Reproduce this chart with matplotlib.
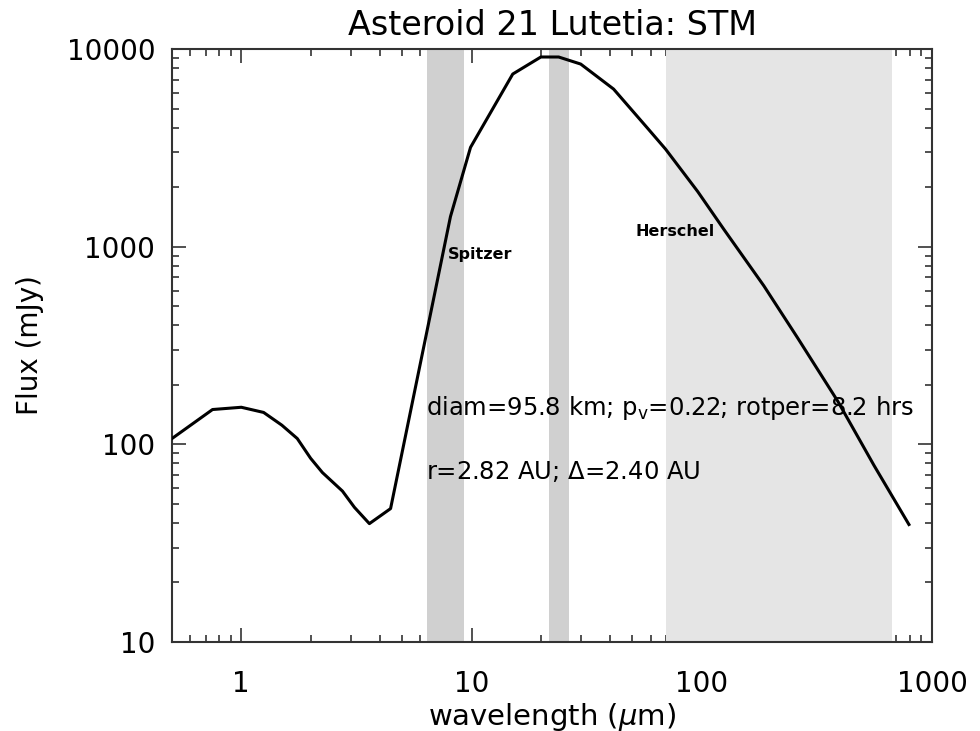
import matplotlib
matplotlib.use("Agg")
import matplotlib.pyplot as plt
from matplotlib.ticker import LogLocator, NullFormatter, FixedLocator, FixedFormatter

# ---- data ----
wavelength = [0.5, 0.75, 1.0, 1.25, 1.5, 1.75, 2.0, 2.25, 2.75, 3.1, 3.6, 4.45,
              8.1, 9.9, 15.1, 20, 23.9, 29.8, 41.4, 58.2, 69.7, 96, 125, 186,
              261, 390, 560, 794]
flux = [107, 150, 154, 145, 125, 107, 85, 72, 58, 48, 39.7, 47.3,
        1420, 3180, 7470, 9110, 9110, 8390, 6270, 3970, 3110, 1901, 1219, 634,
        345, 165, 78.2, 39.3]

spans = [(6.4, 9.25), (21.6, 26.4), (70, 670)]
span_colors = ["#d0d0d0", "#d0d0d0", "#e5e5e5"]

xticks = [1, 10, 100, 1000]
xticklabels = ["1", "10", "100", "1000"]
yticks = [10, 100, 1000, 10000]
yticklabels = ["10", "100", "1000", "10000"]

title = "Asteroid 21 Lutetia: STM"
xlabel = r"wavelength ($\mu$m)"
ylabel = "Flux (mJy)"
info1 = r"diam=95.8 km; p$_\mathregular{v}$=0.22; rotper=8.2 hrs"
info2 = r"r=2.82 AU; $\Delta$=2.40 AU"

plt.rcParams['font.family'] = ['DejaVu Sans']
plt.rcParams['mathtext.fontset'] = 'dejavusans'

fig = plt.figure(figsize=(9.8, 7.31), dpi=100)
ax = fig.add_axes([172/980, 1 - 642/731, (932-172)/980, (642-49)/731])

for (a, b), c in zip(spans, span_colors):
    ax.axvspan(a, b, color=c, lw=0, zorder=1)

ax.plot(wavelength, flux, color="black", lw=2.2, zorder=3)

ax.set_xscale("log")
ax.set_yscale("log")
ax.set_xlim(0.5, 1000)
ax.set_ylim(10, 10000)
ax.set_axisbelow(True)

ax.xaxis.set_major_locator(FixedLocator(xticks))
ax.xaxis.set_major_formatter(FixedFormatter(xticklabels))
ax.yaxis.set_major_locator(FixedLocator(yticks))
ax.yaxis.set_major_formatter(FixedFormatter(yticklabels))
ax.xaxis.set_minor_locator(LogLocator(base=10, subs=range(2, 10), numticks=20))
ax.yaxis.set_minor_locator(LogLocator(base=10, subs=range(2, 10), numticks=20))
ax.xaxis.set_minor_formatter(NullFormatter())
ax.yaxis.set_minor_formatter(NullFormatter())

ax.tick_params(which="both", direction="in", top=True, right=True, width=1.2, color="#333333")
ax.tick_params(which="major", length=10, labelsize=20)
ax.tick_params(axis="x", which="major", pad=20)
ax.tick_params(axis="y", which="major", pad=12)
ax.tick_params(which="minor", length=5)
for s in ax.spines.values():
    s.set_linewidth(1.5)
    s.set_color("#333333")

ax.set_title(title, fontsize=24, pad=10)
ax.set_xlabel(xlabel, fontsize=21, labelpad=2)
ax.set_ylabel(ylabel, fontsize=20, labelpad=16)

ax.text(7.86, 910, "Spitzer", fontsize=11.5, fontweight="bold", va="center", ha="left", zorder=4)
ax.text(51.5, 1190, "Herschel", fontsize=11.5, fontweight="bold", va="center", ha="left", zorder=4)
ax.text(6.37, 152, info1, fontsize=17.5, va="center", ha="left", zorder=4)
ax.text(6.37, 73, info2, fontsize=17.5, va="center", ha="left", zorder=4)

fig.savefig("out.png", dpi=100)
